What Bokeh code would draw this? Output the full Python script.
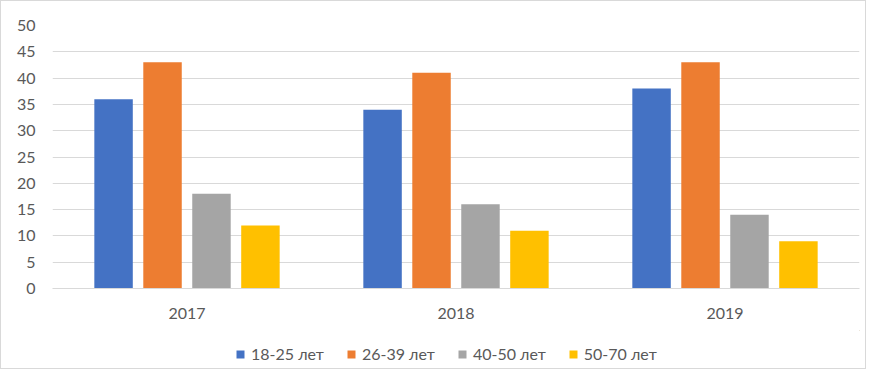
from bokeh.plotting import figure
from bokeh.models import ColumnDataSource, FactorRange, Legend, LegendItem
from bokeh.layouts import column
from bokeh.transform import dodge
from bokeh.embed import file_html
from bokeh.resources import INLINE

years = ["2017", "2018", "2019"]
series_names = ["18-25 лет", "26-39 лет", "40-50 лет", "50-70 лет"]
s_18_25 = [36, 34, 38]
s_26_39 = [43, 41, 43]
s_40_50 = [18, 16, 14]
s_50_70 = [12, 11, 9]
y_ticks = [0, 5, 10, 15, 20, 25, 30, 35, 40, 45, 50]

colors = ["#4472C4", "#ED7D31", "#A5A5A5", "#FFC000"]
offsets = [-0.273, -0.091, 0.091, 0.273]
keys = ["a", "b", "c", "d"]

source = ColumnDataSource(data=dict(year=years, a=s_18_25, b=s_26_39, c=s_40_50, d=s_50_70))

FONT = "Lato"
TXT = "#595959"
BORDER = "1px solid #d9d9d9"

p = figure(width=866, height=330, x_range=FactorRange(*years, range_padding=0),
           y_range=(0, 50), output_backend="svg", toolbar_location=None,
           min_border_left=51, min_border_right=8, min_border_top=24, min_border_bottom=43)
p.styles = {"border-top": BORDER, "border-left": BORDER, "border-right": BORDER,
            "box-sizing": "border-box"}
p.outline_line_color = None

for k, off, col in zip(keys, offsets, colors):
    p.vbar(x=dodge("year", off, range=p.x_range), top=k, width=0.143, source=source,
           fill_color=col, line_color=None)

p.yaxis.ticker = y_ticks
p.yaxis.axis_line_color = None
p.yaxis.major_tick_line_color = None
p.yaxis.minor_tick_line_color = None
p.yaxis.major_tick_out = 0
p.yaxis.major_label_standoff = 17
p.yaxis.major_label_text_font = FONT
p.yaxis.major_label_text_font_size = "16px"
p.yaxis.major_label_text_color = TXT

p.xaxis.axis_line_color = "#d9d9d9"
p.xaxis.axis_line_width = 1
p.xaxis.major_tick_line_color = None
p.xaxis.minor_tick_line_color = None
p.xaxis.major_tick_out = 0
p.xaxis.major_label_standoff = 19
p.xaxis.major_label_text_font = FONT
p.xaxis.major_label_text_font_size = "16px"
p.xaxis.major_label_text_color = TXT

p.xgrid.grid_line_color = None
p.ygrid.grid_line_color = "#d9d9d9"
p.ygrid.grid_line_width = 1

# legend strip below the chart (dummy glyphs placed outside the visible range)
p2 = figure(width=866, height=39, x_range=(0, 1), y_range=(0, 1), output_backend="svg",
            toolbar_location=None, x_axis_type=None, y_axis_type=None,
            min_border_left=0, min_border_right=0, min_border_top=0, min_border_bottom=0)
p2.styles = {"border-bottom": BORDER, "border-left": BORDER, "border-right": BORDER,
             "box-sizing": "border-box"}
p2.outline_line_color = None
p2.grid.visible = False
legend_renderers = [p2.vbar(x=[5], top=[5], bottom=[4], width=0.1, fill_color=col, line_color=None)
                    for col in colors]

legend = Legend(items=[LegendItem(label=n, renderers=[r]) for n, r in zip(series_names, legend_renderers)],
                orientation="horizontal", location=(183, 6),
                glyph_width=10, glyph_height=10, label_standoff=6, spacing=22,
                label_text_font=FONT, label_text_font_size="16px", label_text_color=TXT,
                border_line_color=None, background_fill_alpha=0, padding=0, margin=0)
p2.add_layout(legend)

layout = column(p, p2, spacing=0)
open("out.html", "w").write(file_html(layout, INLINE))
